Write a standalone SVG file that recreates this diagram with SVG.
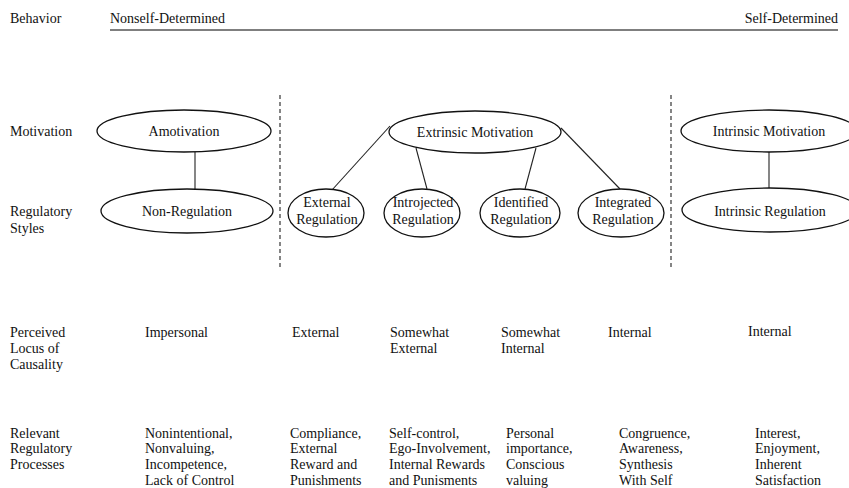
<svg xmlns="http://www.w3.org/2000/svg" width="849" height="488" viewBox="0 0 849 488">
<style>
text{font-family:"Liberation Serif","Times New Roman",serif;font-size:14px;fill:#111}
.c{text-anchor:middle}
ellipse{fill:#fff;stroke:#111;stroke-width:1.3}
.ln{stroke:#222;stroke-width:1.1;fill:none}
.dash{stroke:#444;stroke-width:1.3;stroke-dasharray:4 3;fill:none}
</style>
<rect width="849" height="488" fill="#fff"/>
<g id="header">
<text x="10" y="23">Behavior</text>
<text x="110" y="23">Nonself-Determined</text>
<text x="838" y="23" text-anchor="end">Self-Determined</text>
<line x1="110" y1="30" x2="838" y2="30" stroke="#555" stroke-width="1.5"/>
</g>
<g id="row-labels">
<text x="10" y="136">Motivation</text>
<text x="10" y="216">Regulatory</text>
<text x="10" y="233">Styles</text>
<text x="10" y="337">Perceived</text>
<text x="10" y="353">Locus of</text>
<text x="10" y="369">Causality</text>
<text x="10" y="438">Relevant</text>
<text x="10" y="453">Regulatory</text>
<text x="10" y="469">Processes</text>
</g>
<g id="dividers">
<line class="dash" x1="280" y1="95" x2="280" y2="268"/>
<line class="dash" x1="671" y1="95" x2="671" y2="268"/>
</g>
<g id="connectors">
<line class="ln" x1="195" y1="152" x2="195" y2="190"/>
<line class="ln" x1="769" y1="152" x2="769" y2="189"/>
<line class="ln" x1="390" y1="126" x2="332" y2="190"/>
<line class="ln" x1="416" y1="148" x2="427" y2="189"/>
<line class="ln" x1="536" y1="148" x2="525" y2="189"/>
<line class="ln" x1="561" y1="128" x2="620" y2="189"/>
</g>
<g id="amotivation"><ellipse cx="184" cy="131" rx="87" ry="21"/><text class="c" x="184" y="136">Amotivation</text></g>
<g id="non-regulation"><ellipse cx="187" cy="211" rx="86" ry="22"/><text class="c" x="187" y="216">Non-Regulation</text></g>
<g id="extrinsic"><ellipse cx="475" cy="132" rx="86" ry="21"/><text class="c" x="475" y="137">Extrinsic Motivation</text></g>
<g id="external-reg"><ellipse cx="326" cy="213" rx="38" ry="24"/><text class="c" x="327" y="207">External</text><text class="c" x="327" y="224">Regulation</text></g>
<g id="introjected-reg"><ellipse cx="422" cy="213" rx="38" ry="24"/><text class="c" x="423" y="207">Introjected</text><text class="c" x="423" y="224">Regulation</text></g>
<g id="identified-reg"><ellipse cx="520" cy="213" rx="40" ry="24"/><text class="c" x="521" y="207">Identified</text><text class="c" x="521" y="224">Regulation</text></g>
<g id="integrated-reg"><ellipse cx="621" cy="213" rx="43" ry="24"/><text class="c" x="623" y="207">Integrated</text><text class="c" x="623" y="224">Regulation</text></g>
<g id="intrinsic"><ellipse cx="769" cy="131" rx="88" ry="21"/><text class="c" x="769" y="136">Intrinsic Motivation</text></g>
<g id="intrinsic-reg"><ellipse cx="770" cy="210" rx="88" ry="22"/><text class="c" x="770" y="216">Intrinsic Regulation</text></g>
<g id="locus">
<text x="145" y="337">Impersonal</text>
<text x="292" y="337">External</text>
<text x="390" y="337">Somewhat</text>
<text x="390" y="353">External</text>
<text x="501" y="337">Somewhat</text>
<text x="501" y="353">Internal</text>
<text x="608" y="337">Internal</text>
<text x="748" y="336">Internal</text>
</g>
<g id="processes">
<text x="145" y="438">Nonintentional,</text>
<text x="145" y="453">Nonvaluing,</text>
<text x="145" y="469">Incompetence,</text>
<text x="145" y="485">Lack of Control</text>
<text x="290" y="438">Compliance,</text>
<text x="290" y="453">External</text>
<text x="290" y="469">Reward and</text>
<text x="290" y="485">Punishments</text>
<text x="389" y="438">Self-control,</text>
<text x="389" y="453">Ego-Involvement,</text>
<text x="389" y="469">Internal Rewards</text>
<text x="389" y="485">and Punisments</text>
<text x="506" y="438">Personal</text>
<text x="506" y="453">importance,</text>
<text x="506" y="469">Conscious</text>
<text x="506" y="485">valuing</text>
<text x="619" y="438">Congruence,</text>
<text x="619" y="453">Awareness,</text>
<text x="619" y="469">Synthesis</text>
<text x="619" y="485">With Self</text>
<text x="755" y="438">Interest,</text>
<text x="755" y="453">Enjoyment,</text>
<text x="755" y="469">Inherent</text>
<text x="755" y="485">Satisfaction</text>
</g>
</svg>
